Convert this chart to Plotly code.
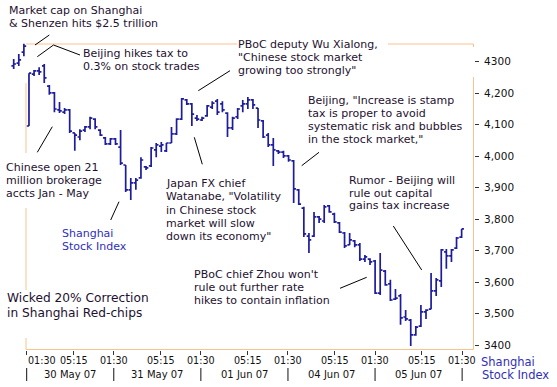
import plotly.graph_objects as go

# ---------------- data (15-minute OHLC bars, Shanghai Stock Index) ----------------
OPEN = [4287, 4296, 4331, 4096, 4261, 4271, 4287, 4223, 4201, 4147,
        4140, 4147, 4074, 4061, 4083, 4093, 4118, 4083, 4058, 4039,
        4055, 4029, 3972, 3893, 3915, 3931, 3966, 3969, 4020, 4032,
        4017, 4042, 4071, 4118, 4179, 4166, 4121, 4115, 4128, 4156,
        4175, 4166, 4137, 4090, 4125, 4160, 4166, 4179, 4153, 4112,
        4067, 4036, 4017, 4013, 4001, 3985, 3893, 3835, 3746, 3746,
        3807, 3794, 3842, 3816, 3788, 3756, 3718, 3731, 3718, 3673,
        3673, 3667, 3565, 3635, 3594, 3546, 3556, 3489, 3479, 3432,
        3460, 3505, 3514, 3572, 3604, 3696, 3683, 3708, 3743]
HIGH = [4309, 4325, 4357, 4264, 4274, 4283, 4293, 4226, 4204, 4172,
        4153, 4150, 4074, 4086, 4096, 4125, 4121, 4086, 4061, 4058,
        4058, 4083, 3972, 3931, 3931, 3997, 3969, 4029, 4042, 4045,
        4042, 4093, 4121, 4185, 4182, 4169, 4131, 4125, 4163, 4175,
        4182, 4175, 4140, 4125, 4153, 4179, 4188, 4182, 4153, 4115,
        4074, 4058, 4020, 4017, 4004, 3988, 3896, 3839, 3756, 3823,
        3810, 3845, 3845, 3820, 3791, 3759, 3756, 3734, 3724, 3686,
        3676, 3670, 3692, 3638, 3607, 3578, 3562, 3511, 3483, 3460,
        3527, 3514, 3629, 3613, 3705, 3705, 3705, 3743, 3769]
LOW = [4277, 4287, 4318, 4096, 4255, 4258, 4233, 4195, 4140, 4137,
       4134, 4074, 4017, 4051, 4077, 4086, 4086, 4064, 4036, 4036,
       4036, 3972, 3886, 3861, 3893, 3928, 3956, 3966, 3997, 4013,
       4013, 4042, 4067, 4115, 4163, 4096, 4112, 4112, 4125, 4150,
       4131, 4140, 4061, 4083, 4118, 4140, 4150, 4150, 4090, 4058,
       4029, 3969, 4007, 3994, 3982, 3851, 3845, 3743, 3692, 3743,
       3788, 3788, 3820, 3788, 3756, 3708, 3718, 3711, 3667, 3664,
       3654, 3562, 3559, 3588, 3540, 3543, 3464, 3476, 3397, 3429,
       3457, 3483, 3514, 3556, 3584, 3642, 3664, 3705, 3740]
CLOSE = [4293, 4306, 4350, 4264, 4271, 4268, 4249, 4201, 4150, 4144,
         4147, 4080, 4067, 4080, 4093, 4121, 4093, 4067, 4039, 4055,
         4039, 3978, 3893, 3915, 3924, 3988, 3963, 4026, 4036, 4036,
         4042, 4071, 4118, 4182, 4166, 4134, 4118, 4121, 4160, 4169,
         4140, 4147, 4090, 4121, 4150, 4166, 4179, 4163, 4115, 4061,
         4036, 4020, 4013, 4001, 3988, 3896, 3848, 3753, 3734, 3807,
         3800, 3839, 3823, 3791, 3759, 3715, 3734, 3718, 3673, 3680,
         3664, 3565, 3638, 3591, 3543, 3549, 3486, 3483, 3432, 3457,
         3505, 3511, 3572, 3607, 3702, 3683, 3702, 3740, 3769]

Y_TICKS = [3400, 3500, 3600, 3700, 3800, 3900, 4000, 4100, 4200, 4300]
Y_TICK_TEXT = ["3400", "3,500", "3,600", "3,700", "3,800", "3,900",
               "4,000", "4,100", "4,200", "4300"]
TIME_LABELS = ["01:30", "05:15", "01:30", "05:15", "01:30", "05:15",
               "01:30", "05:15", "01:30", "05:15", "01:30"]
DATE_LABELS = ["30 May 07", "31 May 07", "01 Jun 07", "04 Jun 07", "05 Jun 07"]

# session structure on the bar-index axis
DAY_START = 2.55   # first 01:30 mark
DAY_LEN = 17.11    # bars per session slot
MID_OFFSET = 9.2   # 01:30 -> 05:15

X = list(range(len(OPEN)))

# ---------------- figure ----------------
W, H = 557, 387
ML, MR, MT, MB = 8, 83, 40, 37
PL, PR, PT, PB = ML, W - MR, MT, H - MB  # plot area in px


def px_x(p):
    return (p - PL) / (PR - PL)


def px_y(p):
    return (PB - p) / (PB - PT)


tickpos = []
for k in range(len(DATE_LABELS) + 1):
    tickpos.append(DAY_START + k * DAY_LEN)
    if k < len(DATE_LABELS):
        tickpos.append(DAY_START + k * DAY_LEN + MID_OFFSET)

BAR_COLOR = "#1c1c9c"
ORANGE = "#F9C38E"
TXT = "#1e1030"
BLUE = "#2f2fb8"
FONT = "DejaVu Sans"

fig = go.Figure(go.Ohlc(
    x=X, open=OPEN, high=HIGH, low=LOW, close=CLOSE,
    increasing=dict(line=dict(color=BAR_COLOR, width=1.7)),
    decreasing=dict(line=dict(color=BAR_COLOR, width=1.7)),
    tickwidth=0.45, hoverinfo="skip", showlegend=False,
))

annotations = []


def block(lines, x, y0, dy, size=11, color=TXT, anchor="left", xref="paper"):
    for i, line in enumerate(lines):
        annotations.append(dict(
            text=line, xref=xref, yref="paper",
            x=px_x(x) if xref == "paper" else x, y=px_y(y0 + i * dy),
            xanchor=anchor, yanchor="middle", showarrow=False,
            font=dict(family=FONT, size=size, color=color),
            borderpad=0,
        ))


block(["Market cap on Shanghai", "& Shenzen hits $2.5 trillion"], 8, 10, 13.3)
block(["Beijing hikes tax to", "0.3% on stock trades"], 82, 53, 13.3)
block(["PBoC deputy Wu Xialong,", "\"Chinese stock market", "growing too strongly\""], 237, 45, 12.8)
block(["Beijing, \"Increase is stamp", "tax is proper to avoid",
       "systematic risk and bubbles", "in the stock market,\""], 307, 100.5, 13)
block(["Chinese open 21", "million brokerage", "accts Jan - May"], 5, 167, 13)
block(["Shanghai", "Stock Index"], 60.5, 233.5, 12.8, color=BLUE)
block(["Japan FX chief", "Watanabe, \"Volatility", "in Chinese stock",
       "market will slow", "down its economy\""], 164.5, 183.5, 13.3)
block(["Rumor - Beijing will", "rule out capital", "gains tax increase"], 348, 180, 13)
block(["PBoC chief Zhou won't", "rule out further rate", "hikes to contain inflation"], 193, 274, 13)
block(["Wicked 20% Correction", "in Shanghai Red-chips"], 5.5, 298.3, 14.2, size=12.2)
block(["Shanghai", "Stock Index"], 480.5, 361.5, 13.3, size=11.5, color=BLUE)

# time-of-day labels and date labels
for i, (pos, lab) in enumerate(zip(tickpos, TIME_LABELS)):
    annotations.append(dict(
        text=lab, xref="x", yref="paper", x=pos, y=px_y(360),
        xanchor="left" if i == 0 else "center", yanchor="middle",
        showarrow=False, font=dict(family=FONT, size=9.6, color="#111111"),
        borderpad=0,
    ))
for k, lab in enumerate(DATE_LABELS):
    annotations.append(dict(
        text=lab, xref="x", yref="paper",
        x=DAY_START + (k + 0.5) * DAY_LEN, y=px_y(374),
        xanchor="center", yanchor="middle", showarrow=False,
        font=dict(family=FONT, size=10, color="#111111"), borderpad=0,
    ))

shapes = []


def seg(x0, y0, x1, y1, color, width=1):
    shapes.append(dict(type="line", xref="paper", yref="paper",
                       x0=px_x(x0), y0=px_y(y0), x1=px_x(x1), y1=px_y(y1),
                       line=dict(color=color, width=width)))


# orange frame (interrupted by the text boxes)
seg(26, 44, 237, 44, ORANGE)
seg(388, 44, 473.5, 44, ORANGE)
seg(473.5, 44, 473.5, 47, ORANGE)
seg(473.5, 77, 473.5, 349.5, ORANGE)
seg(26, 349.5, 473.5, 349.5, ORANGE)
seg(26, 83, 26, 153, ORANGE)
seg(26, 208, 26, 290, ORANGE)
seg(26, 338, 26, 349.5, ORANGE)

# callout lines
K = "#000000"
seg(49.3, 35, 35, 45, K)
seg(37.3, 56.7, 53.5, 45, K)
seg(53.5, 45, 80, 55, K)
seg(198.3, 90.7, 230, 70.7, K)
seg(37.3, 152.3, 52.3, 126.7, K)
seg(110.7, 220, 119, 201.7, K)
seg(194.3, 137.3, 202.3, 164.3, K)
seg(301.7, 165.7, 319, 152.3, K)
seg(393.3, 226, 421.7, 270, K)
seg(340, 288.3, 366.7, 277.3, K)

# date separators
for k in range(len(DATE_LABELS) + 1):
    shapes.append(dict(type="line", xref="x", yref="paper",
                       x0=DAY_START + k * DAY_LEN, x1=DAY_START + k * DAY_LEN,
                       y0=px_y(368), y1=px_y(381),
                       line=dict(color="#111111", width=1)))

fig.update_layout(
    width=W, height=H, autosize=False,
    margin=dict(l=ML, r=MR, t=MT, b=MB, pad=0),
    paper_bgcolor="white", plot_bgcolor="white",
    showlegend=False, hovermode=False,
    font=dict(family=FONT, size=10, color="#111111"),
    annotations=annotations, shapes=shapes,
    xaxis=dict(range=[-1.12, 90.43], showgrid=False, zeroline=False,
               showline=False, ticks="outside", ticklen=4, tickwidth=1,
               tickcolor="#333333", tickvals=tickpos, showticklabels=False,
               rangeslider=dict(visible=False), fixedrange=True),
    yaxis=dict(side="right", range=[3384.1, 4369.3], showgrid=False,
               zeroline=False, showline=False, ticks="outside", ticklen=4,
               tickwidth=1, tickcolor="#333333", tickvals=Y_TICKS,
               ticktext=Y_TICK_TEXT, ticklabelstandoff=3,
               tickfont=dict(family=FONT, size=10.5, color="#111111"),
               fixedrange=True),
)

fig.write_html(
    "out.html",
    config={"displayModeBar": False, "staticPlot": True},
    post_script="document.body.style.margin='0';document.body.style.overflow='hidden';",
)
